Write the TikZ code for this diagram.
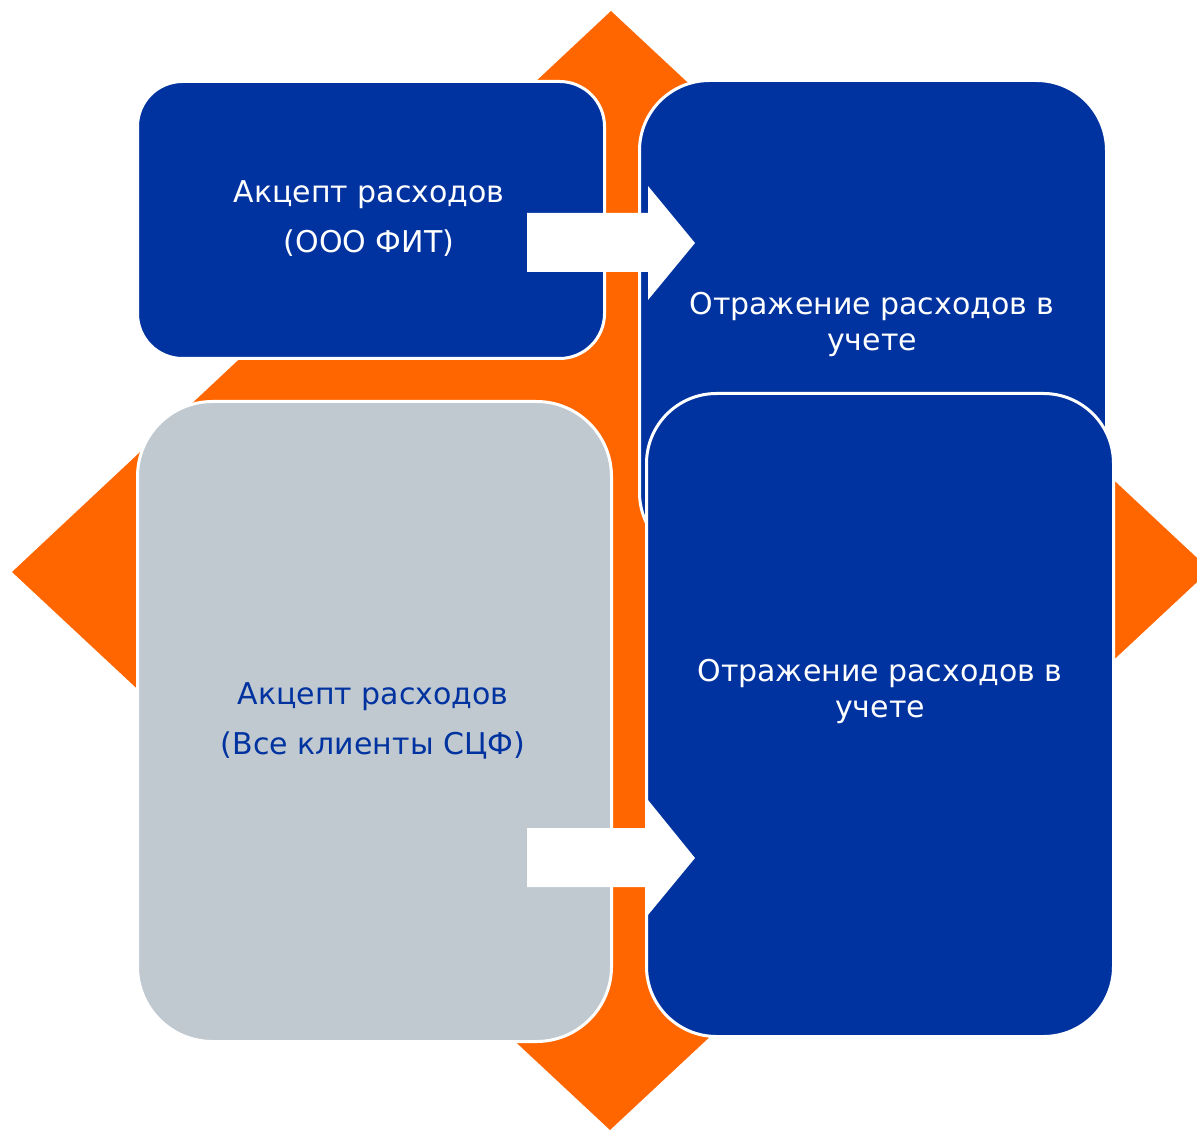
\documentclass[tikz,border=0pt]{standalone}
\usepackage{fontspec}
\setmainfont{DejaVu Sans}
\definecolor{fitblue}{RGB}{0,51,160}
\definecolor{fitorange}{RGB}{255,102,0}
\definecolor{fitgray}{RGB}{192,200,208}
\begin{document}
\begin{tikzpicture}[x=1pt,y=-1pt,
  box/.style={draw=white,line width=3pt,inner sep=0pt,anchor=north west},
  bluebox/.style={box,fill=fitblue},
  graybox/.style={box,fill=fitgray},
  lbl/.style={align=center,inner sep=0pt},
  big/.style={font=\fontsize{30}{50}\selectfont},
  small/.style={font=\fontsize{30}{36}\selectfont},
  blockarrow/.style={fill=white,draw=none}]
\useasboundingbox (0,0) rectangle (1197,1131);
\clip (0,0) rectangle (1197,1131);
% orange diamond
\fill[fitorange] (611,11) -- (1210,570) -- (610,1130) -- (12,572) -- cycle;
% boxes
\node[bluebox,rounded corners=45pt,minimum width=467pt,minimum height=277pt] (b1) at (136,80) {};
\node[bluebox,rounded corners=70pt,minimum width=467pt,minimum height=482pt] (b2) at (638,79) {};
\node[graybox,rounded corners=75pt,minimum width=474pt,minimum height=640pt] (b3) at (136,400) {};
\node[bluebox,rounded corners=70pt,minimum width=467pt,minimum height=643pt] (b4) at (645,392) {};
% texts
\node[lbl,big,text=white] (t1) at (369,219) {Акцепт расходов\\(ООО ФИТ)};
\node[lbl,small,text=white] (t2) at (872,324) {Отражение расходов в\\учете};
\node[lbl,big,text=fitblue] (t3) at (373,721) {Акцепт расходов\\(Все клиенты СЦФ)};
\node[lbl,small,text=white] (t4) at (880,691) {Отражение расходов в\\учете};
% arrows
\fill[blockarrow] (527,213) -- (648,213) -- (648,186) -- (695,243) -- (648,300) -- (648,272) -- (527,272) -- cycle;
\fill[blockarrow] (527,828) -- (648,828) -- (648,800) -- (695,858) -- (648,915) -- (648,887) -- (527,887) -- cycle;
\end{tikzpicture}
\end{document}
